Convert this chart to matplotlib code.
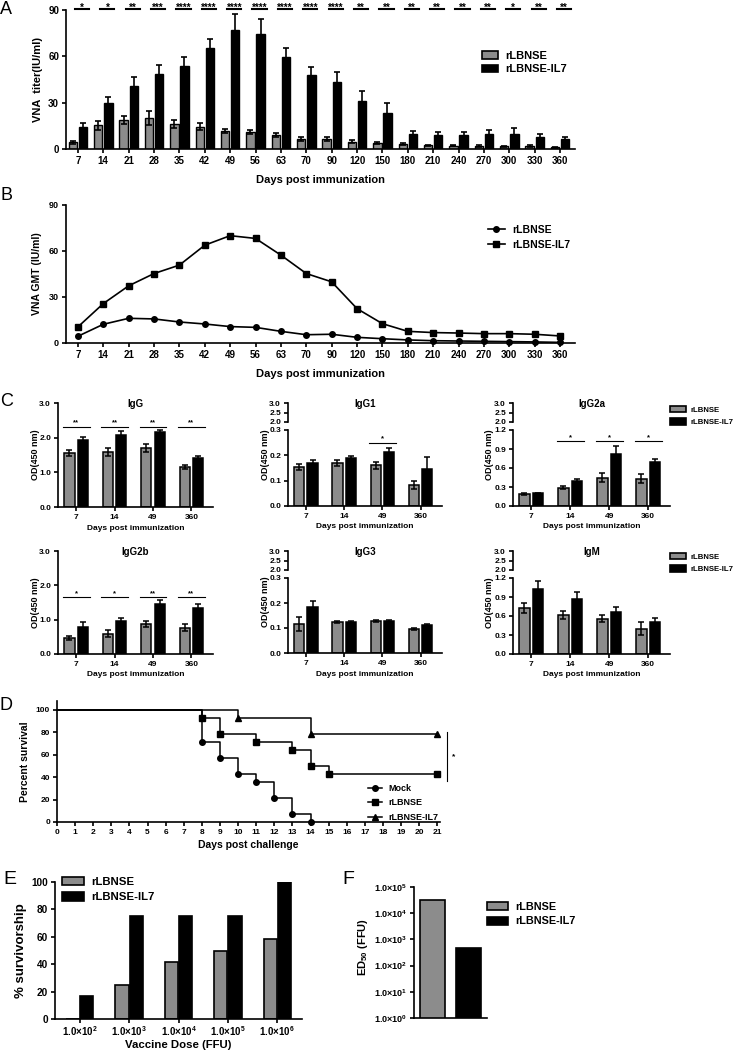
import matplotlib
matplotlib.use('Agg')
import numpy as np
import matplotlib.pyplot as plt
from matplotlib.patches import Patch
from matplotlib.lines import Line2D

plt.rcParams['font.family'] = 'Liberation Sans'
plt.rcParams['font.weight'] = 'bold'
plt.rcParams['axes.labelweight'] = 'bold'
plt.rcParams['mathtext.fontset'] = 'custom'
plt.rcParams['mathtext.rm'] = 'Liberation Sans:bold'
plt.rcParams['mathtext.bf'] = 'Liberation Sans:bold'
plt.rcParams['mathtext.it'] = 'Liberation Sans:bold'

# ---- data ----
days_a = ['7', '14', '21', '28', '35', '42', '49', '56', '63', '70', '90', '120', '150',
          '180', '210', '240', '270', '300', '330', '360']
a_lbnse = [4.5, 15.3, 18.8, 19.9, 16, 14.5, 11.5, 11, 9, 6.3, 6.5, 4.7, 4, 3.2, 2.3, 2.2, 2, 1.7, 2, 1.2]
a_lbnse_err = [1, 3, 2.8, 4.5, 2.6, 2.5, 1.2, 1.3, 1.5, 1.2, 1, 1, 0.8, 0.8, 0.5, 0.5, 0.5, 0.4, 0.5, 0.3]
a_il7 = [14, 29.6, 41, 48.6, 53.7, 65.6, 77, 74.5, 59.8, 48, 43.6, 31, 23, 9.5, 9, 9, 9.8, 9.8, 7.8, 6.3]
a_il7_err = [3, 4.3, 5.8, 5.8, 6, 5.4, 10.4, 9.5, 5.8, 5.2, 6.5, 6.5, 7, 2, 2, 2, 2.3, 3.5, 1.6, 1.3]
a_stars = ['*', '*', '**', '***', '****', '****', '****', '****', '****', '****', '****',
           '**', '**', '**', '**', '**', '**', '*', '**', '**']

b_lbnse = [4.4, 12.2, 16.1, 15.7, 13.7, 12.4, 10.7, 10.2, 7.6, 5.4, 5.7, 3.7, 2.8, 2.0, 1.5, 1.3, 1.1, 0.9, 0.7, 0.4]
b_il7 = [10.5, 25.7, 37.3, 45.3, 50.8, 63.8, 70, 68.2, 57.3, 45.3, 39.9, 22.4, 12.6, 7.6, 6.8, 6.5, 6.1, 6.1, 5.7, 4.6]

c_days = ['7', '14', '49', '360']
igg_lb = [1.55, 1.58, 1.70, 1.16]
igg_lb_err = [0.08, 0.11, 0.11, 0.05]
igg_il = [1.94, 2.07, 2.15, 1.42]
igg_il_err = [0.07, 0.12, 0.07, 0.04]
igg_stars = ['**', '**', '**', '**']

igg1_lb = [0.154, 0.170, 0.160, 0.082]
igg1_lb_err = [0.010, 0.012, 0.012, 0.015]
igg1_il = [0.170, 0.188, 0.214, 0.147]
igg1_il_err = [0.010, 0.008, 0.015, 0.045]
igg1_stars = ['', '', '*', '']

igg2a_lb = [0.19, 0.29, 0.45, 0.43]
igg2a_lb_err = [0.01, 0.02, 0.07, 0.07]
igg2a_il = [0.20, 0.39, 0.82, 0.69]
igg2a_il_err = [0.01, 0.04, 0.13, 0.05]
igg2a_stars = ['', '*', '*', '*']

igg2b_lb = [0.46, 0.59, 0.87, 0.77]
igg2b_lb_err = [0.05, 0.10, 0.08, 0.09]
igg2b_il = [0.80, 0.95, 1.45, 1.35]
igg2b_il_err = [0.13, 0.10, 0.13, 0.10]
igg2b_stars = ['*', '*', '**', '**']

igg3_lb = [0.115, 0.126, 0.129, 0.095]
igg3_lb_err = [0.028, 0.004, 0.003, 0.004]
igg3_il = [0.184, 0.125, 0.129, 0.113]
igg3_il_err = [0.024, 0.003, 0.003, 0.004]

igm_lb = [0.72, 0.62, 0.56, 0.40]
igm_lb_err = [0.08, 0.06, 0.06, 0.10]
igm_il = [1.02, 0.87, 0.66, 0.50]
igm_il_err = [0.13, 0.11, 0.09, 0.07]

mock_days = [0, 8, 9, 10, 11, 12, 13, 14]
mock_surv = [100, 71.4, 57.1, 42.9, 35.7, 21.4, 7.1, 0]
lb_days = [0, 8, 9, 11, 13, 14, 15, 21]
lb_surv = [100, 92.9, 78.6, 71.4, 64.3, 50, 42.9, 42.9]
il7_days = [0, 10, 14, 21]
il7_surv = [100, 92.9, 78.6, 78.6]

e_exp = [2, 3, 4, 5, 6]
e_lb = [0, 25, 41.7, 50, 58.3]
e_il7 = [16.7, 75, 75, 75, 100]

f_ed50 = [3.2e4, 4.5e2]

GRAY = '#8c8c8c'
W, H = 736, 1052
fig = plt.figure(figsize=(W / 100, H / 100), dpi=100)


def ax_px(l, t, r, b):
    return fig.add_axes([l / W, 1 - b / H, (r - l) / W, (b - t) / H])


def style(ax, fs, lw=1.2):
    for s in ['top', 'right']:
        ax.spines[s].set_visible(False)
    for s in ['left', 'bottom']:
        ax.spines[s].set_linewidth(lw)
    ax.tick_params(direction='out', width=lw, length=3, labelsize=fs, pad=2)


def text_px(x, y, s, fs, **kw):
    fig.text(x / W, 1 - y / H, s, fontsize=fs, ha=kw.pop('ha', 'center'),
             va=kw.pop('va', 'center'), **kw)


def legend_px(handles, labels, x, y, fs, hl=1.4, hh=0.7, sp=0.35, pad=0.7):
    fig.legend(handles, labels, loc='center left', bbox_to_anchor=(x / W, 1 - y / H),
               frameon=False, fontsize=fs, handlelength=hl, handleheight=hh,
               labelspacing=sp, handletextpad=pad, borderpad=0, borderaxespad=0)


bar_handles = [Patch(facecolor=GRAY, edgecolor='black', lw=1.2),
               Patch(facecolor='black', edgecolor='black', lw=1.2)]
bar_labels = ['rLBNSE', 'rLBNSE-IL7']

# ---- panel A ----
ax = ax_px(66, 10, 575, 149)
style(ax, 7)
x = np.arange(len(days_a))
ax.bar(x - 0.2, a_lbnse, 0.33, color=GRAY, edgecolor='black', lw=1, zorder=2)
ax.bar(x + 0.2, a_il7, 0.33, color='black', edgecolor='black', lw=1, zorder=2)
ax.errorbar(x - 0.2, a_lbnse, yerr=a_lbnse_err, fmt='none', ecolor='black',
            elinewidth=1.2, capsize=2, capthick=1.2, zorder=3)
ax.errorbar(x + 0.2, a_il7, yerr=a_il7_err, fmt='none', ecolor='black',
            elinewidth=1.2, capsize=2, capthick=1.2, zorder=3)
for i, s in enumerate(a_stars):
    ax.plot([i - 0.12, i + 0.44], [90.4, 90.4], color='black', lw=1.5, clip_on=False)
    ax.text(i + 0.16, 89.6, s, ha='center', va='baseline', fontsize=7, clip_on=False)
ax.set_xlim(-0.47, 19.59)
ax.set_ylim(0, 90)
ax.set_yticks([0, 30, 60, 90])
ax.set_xticks(x)
ax.set_xticklabels(days_a)
ax.set_ylabel('VNA  titer(IU/ml)', fontsize=8, labelpad=4)
ax.set_xlabel('Days post immunization', fontsize=8)
ax.xaxis.set_label_coords(0.5, -0.19)
legend_px(bar_handles, bar_labels, 482, 62.5, 8)

# ---- panel B ----
ax = ax_px(66, 205, 575, 343)
style(ax, 6.5)
ax.plot(x, b_lbnse, 'o-', color='black', ms=4, lw=1.2, clip_on=False)
ax.plot(x, b_il7, 's-', color='black', ms=4, lw=1.2, clip_on=False)
ax.set_xlim(-0.47, 19.59)
ax.set_ylim(0, 90)
ax.set_yticks([0, 30, 60, 90])
ax.set_xticks(x)
ax.set_xticklabels(days_a, fontsize=7)
ax.set_ylabel('VNA GMT (IU/ml)', fontsize=7.5, labelpad=5)
ax.set_xlabel('Days post immunization', fontsize=8)
ax.xaxis.set_label_coords(0.5, -0.19)
line_handles = [Line2D([], [], color='black', marker='o', ms=4, lw=1.2),
                Line2D([], [], color='black', marker='s', ms=4, lw=1.2)]
legend_px(line_handles, bar_labels, 488, 237.5, 7.5, hl=1.6, sp=0.5)


# ---- panel C ----
def c_panel(left, top, bottom, right, broken, ylim, yticks, lb, lbe, il, ile, stars, sig_y, title):
    if broken:
        up = ax_px(left, top, right, top + 19)
        style(up, 6)
        up.spines['bottom'].set_visible(False)
        up.set_xticks([])
        up.set_ylim(2.0, 3.0)
        up.set_yticks([2.0, 2.5, 3.0])
        up.set_yticklabels(['2.0', '2.5', '3.0'])
        up.patch.set_alpha(0)
        ax = ax_px(left, top + 27, right, bottom)
    else:
        ax = ax_px(left, top, right, bottom)
    style(ax, 6)
    xc = np.arange(len(c_days))
    ax.bar(xc - 0.175, lb, 0.27, color=GRAY, edgecolor='black', lw=1.1, zorder=2)
    ax.bar(xc + 0.175, il, 0.27, color='black', edgecolor='black', lw=1.1, zorder=2)
    ax.errorbar(xc - 0.175, lb, yerr=lbe, fmt='none', ecolor='black', elinewidth=1.1,
                capsize=2.5, capthick=1.1, zorder=3)
    ax.errorbar(xc + 0.175, il, yerr=ile, fmt='none', ecolor='black', elinewidth=1.1,
                capsize=2.5, capthick=1.1, zorder=3)
    if stars:
        for i, s in enumerate(stars):
            if s:
                ax.plot([i - 0.35, i + 0.35], [sig_y, sig_y], color='black', lw=0.8)
                ax.text(i, sig_y, s, ha='center', va='bottom', fontsize=5.5)
    ax.set_xlim(-0.47, 3.56)
    ax.set_ylim(*ylim)
    ax.set_yticks(yticks)
    ax.set_yticklabels(['%.1f' % v for v in yticks])
    ax.set_xticks(xc)
    ax.set_xticklabels(c_days)
    cx = (left + right) / 2
    text_px(cx, top + 1, title, 7)
    text_px(cx, bottom + 21, 'Days post immunization', 6)
    text_px(left - 23, (top + bottom) / 2, 'OD(450 nm)', 6.5, rotation=90)


c_panel(58, 403, 507, 213, False, (0, 3), [0, 1, 2, 3],
        igg_lb, igg_lb_err, igg_il, igg_il_err, igg_stars, 2.32, 'IgG')
c_panel(288, 403, 506, 442, True, (0, 0.3), [0, 0.1, 0.2, 0.3],
        igg1_lb, igg1_lb_err, igg1_il, igg1_il_err, igg1_stars, 0.25, 'IgG1')
c_panel(513, 403, 506, 670, True, (0, 1.2), [0, 0.3, 0.6, 0.9, 1.2],
        igg2a_lb, igg2a_lb_err, igg2a_il, igg2a_il_err, igg2a_stars, 1.03, 'IgG2a')
c_panel(58, 551, 654, 213, False, (0, 3), [0, 1, 2, 3],
        igg2b_lb, igg2b_lb_err, igg2b_il, igg2b_il_err, igg2b_stars, 1.66, 'IgG2b')
c_panel(288, 551, 653, 442, True, (0, 0.3), [0, 0.1, 0.2, 0.3],
        igg3_lb, igg3_lb_err, igg3_il, igg3_il_err, None, 0, 'IgG3')
c_panel(513, 551, 654, 670, True, (0, 1.2), [0, 0.3, 0.6, 0.9, 1.2],
        igm_lb, igm_lb_err, igm_il, igm_il_err, None, 0, 'IgM')
legend_px(bar_handles, bar_labels, 670, 416, 5.6, hl=2.1, hh=0.9, sp=0.55, pad=0.5)
legend_px(bar_handles, bar_labels, 670, 563, 5.6, hl=2.1, hh=0.9, sp=0.55, pad=0.5)

# ---- panel D ----
ax = ax_px(57, 701, 440, 822)
style(ax, 6)
for d, s, m in [(mock_days, mock_surv, 'o'), (lb_days, lb_surv, 's'), (il7_days, il7_surv, '^')]:
    ax.step(d, s, where='post', color='black', lw=1.1, clip_on=False)
    ax.plot(d[1:], s[1:], m, color='black', ms=4, clip_on=False)
ax.plot([21.55, 21.55], [80, 37], color='black', lw=0.8, clip_on=False)
ax.text(21.9, 58, '*', fontsize=6, ha='center', va='center')
ax.set_xlim(0, 21.15)
ax.set_ylim(0, 108)
ax.set_xticks(range(22))
ax.set_yticks([0, 20, 40, 60, 80, 100])
ax.set_ylabel('Percent survival', fontsize=7.5, labelpad=4)
text_px(248, 845, 'Days post challenge', 7.5)
d_handles = [Line2D([], [], color='black', marker=m, ms=4, lw=1.1) for m in ['o', 's', '^']]
legend_px(d_handles, ['Mock', 'rLBNSE', 'rLBNSE-IL7'], 368, 803, 6.5, hl=1.6, sp=0.6)

# ---- panel E ----
ax = ax_px(55, 882, 302, 1019)
style(ax, 7.2)
ax.tick_params(axis='x', pad=1)
xe = np.arange(len(e_exp))
ax.bar(xe - 0.143, e_lb, 0.265, color=GRAY, edgecolor='black', lw=1.2)
ax.bar(xe + 0.143, e_il7, 0.265, color='black', edgecolor='black', lw=1.2)
ax.set_xlim(-0.5, 4.5)
ax.set_ylim(0, 100)
ax.set_yticks([0, 20, 40, 60, 80, 100])
ax.set_xticks(xe)
ax.set_xticklabels([r'$\mathbf{1.0{\times}10^{%d}}$' % k for k in e_exp], fontsize=7)
ax.set_ylabel('% survivorship', fontsize=9.5, labelpad=3)
text_px(178, 1045, 'Vaccine Dose (FFU)', 8.2)
legend_px(bar_handles, bar_labels, 62, 889.5, 8.2, hl=1.9, hh=0.8, sp=0.45)

# ---- panel F ----
ax = ax_px(414, 887, 487, 1018)
style(ax, 6.5)
ax.bar([0, 1], f_ed50, 0.69, color=[GRAY, 'black'], edgecolor='black', lw=1.2)
ax.set_yscale('log')
ax.set_ylim(1, 1e5)
ax.set_xlim(-0.51, 1.51)
ax.set_xticks([])
ax.set_yticks([10.0 ** k for k in range(6)])
ax.set_yticklabels([r'$\mathbf{1.0{\times}10^{%d}}$' % k for k in range(6)])
ax.minorticks_off()
text_px(363, 947, r'ED$_{\mathbf{50}}$ (FFU)', 8, rotation=90)
legend_px(bar_handles, bar_labels, 487, 914, 7.8, hl=1.9, hh=0.8, sp=0.45)

# ---- panel letters ----
for s, px, py, fs in [('A', 6, 9, 13), ('B', 6, 196, 13), ('C', 7, 402, 13),
                      ('D', 6, 706, 13), ('E', 10, 880, 14), ('F', 348, 880, 14)]:
    text_px(px, py, s, fs, fontweight='normal')

fig.savefig('out.png', dpi=100)
